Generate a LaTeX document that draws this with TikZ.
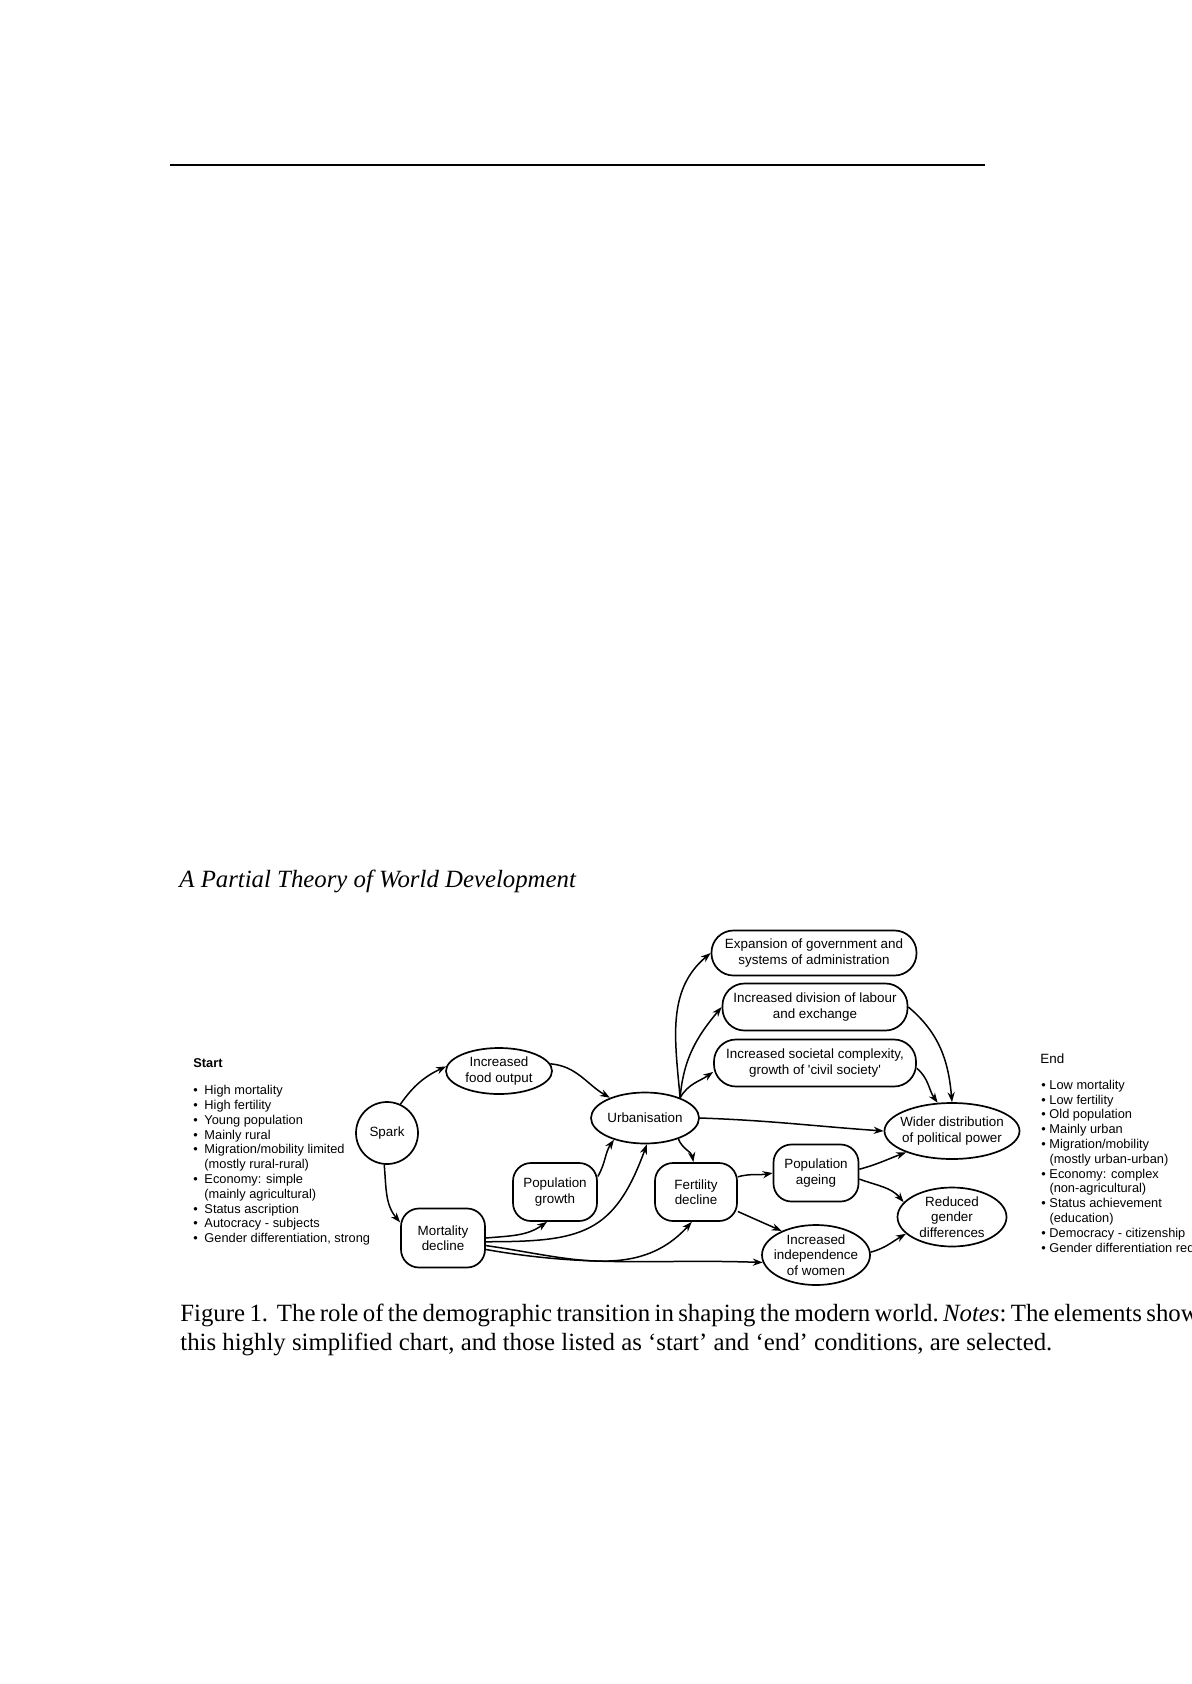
\documentclass[tikz,border=0pt]{standalone}
\usepackage{fontspec}
\setmainfont{Liberation Serif}
\newfontfamily\chartfont{Liberation Sans}
\usetikzlibrary{arrows.meta,shapes.geometric}

\begin{document}
\begin{tikzpicture}[x=0.5pt, y=-0.5pt,
    blob/.style={draw, ellipse, line width=0.85pt, inner sep=0pt, align=center, font=\chartfont\fontsize{6.7}{7.6}\selectfont},
    squarish/.style={draw, rounded corners=9pt, line width=0.85pt, inner sep=0pt, align=center, font=\chartfont\fontsize{6.7}{7.6}\selectfont},
    pill/.style={squarish, rounded corners=11pt},
    arr/.style={-{Stealth[length=5pt,width=3.6pt]}, line width=0.75pt},
    cond/.style={anchor=north west, inner sep=0pt, align=left, font=\chartfont\fontsize{6.4}{7.4}\selectfont},
    head/.style={anchor=base west, inner sep=0pt}
]
\useasboundingbox (0,0) rectangle (1192,1684);
\clip (0,0) rectangle (1192,1684);

\draw[line width=1pt] (170,165) -- (985,165);

\node[head, font=\itshape\fontsize{12.4}{14}\selectfont] (title) at (179,887) {A Partial Theory of World Development};

\node[blob, minimum width=31pt, minimum height=31pt] (spark) at (387,1133) {Spark};
\node[blob, minimum width=53pt, minimum height=23pt] (food) at (499,1071) {Increased\\food output};
\node[blob, minimum width=54pt, minimum height=25.5pt] (urb) at (645,1118) {Urbanisation};
\node[squarish, minimum width=42pt, minimum height=29pt] (pg) at (555,1192) {Population\\growth};
\node[squarish, minimum width=42pt, minimum height=29.5pt] (mort) at (443,1238) {Mortality\\decline};
\node[squarish, minimum width=41pt, minimum height=29pt] (fd) at (696,1192) {Fertility\\decline};
\node[squarish, minimum width=42.5pt, minimum height=28.5pt] (pa) at (816,1173) {Population\\ageing};
\node[blob, minimum width=54pt, minimum height=30pt, inner xsep=-4pt, inner ysep=-2pt] (iiw) at (816,1255) {Increased\\independence\\of women};
\node[blob, minimum width=54.5pt, minimum height=29.5pt, inner ysep=-2pt] (rgd) at (952,1217) {Reduced\\gender\\differences};
\node[blob, minimum width=67.5pt, minimum height=28pt, inner xsep=-4pt] (wd) at (952,1131) {Wider distribution\\of political power};
\node[pill, minimum width=102.5pt, minimum height=22.5pt] (gov) at (814,953) {Expansion of government and\\systems of administration};
\node[pill, minimum width=92.5pt, minimum height=23.5pt] (lab) at (815,1007) {Increased division of labour\\and exchange};
\node[pill, minimum width=101pt, minimum height=23.5pt] (soc) at (815,1063) {Increased societal complexity,\\growth of \textquotesingle civil society\textquotesingle};

\draw[arr] (spark.65) to[out=55,in=205] (food.175);
\draw[arr] (spark.265) to[out=275,in=130] (mort.160);
\draw[arr] (food.8) to[out=-5,in=150] (urb.150);
\draw[arr] (pg.20) to[out=60,in=235] (urb.215);
\draw[arr] (mort.east) to[out=5,in=215] (pg.255);
\draw[arr] (mort.-5) to[out=0,in=250,looseness=1.3] (urb.274);
\draw[arr] (mort.-10) to[out=-8,in=228] (fd.262);
\draw[arr] (mort.-15) to[out=-10,in=178] (iiw.188);
\draw[arr] (urb.328) to[out=-70,in=100] (fd.95);
\draw[arr] (urb.east) to[out=-2,in=176] (wd.west);
\draw[arr] (urb.30) to[out=95,in=220] (gov.west);
\draw[arr] (urb.30) to[out=85,in=230] (lab.west);
\draw[arr] (urb.30) to[out=60,in=215] (soc.185);
\draw[arr] (lab.east) to[out=-40,in=95] (wd.north);
\draw[arr] (soc.-3) to[out=-40,in=125] (wd.117);
\draw[arr] (fd.20) to[out=15,in=190] (pa.west);
\draw[arr] (fd.-25) -- (iiw.145);
\draw[arr] (pa.5) to[out=15,in=200] (wd.205);
\draw[arr] (pa.-8) to[out=-20,in=130] (rgd.163);
\draw[arr] (iiw.3) to[out=15,in=210] (rgd.200);

\node[head, font=\chartfont\bfseries\fontsize{6.4}{7.4}\selectfont] (starthead) at (193,1067) {Start};
\node[cond] (startlist) at (193,1084) {%
  \begin{tabular}{@{}l@{\hspace{3.3pt}}l@{}}
  \textbullet & High mortality\\
  \textbullet & High fertility\\
  \textbullet & Young population\\
  \textbullet & Mainly rural\\
  \textbullet & Migration/mobility limited\\
              & (mostly rural-rural)\\
  \textbullet & Economy: simple\\
              & (mainly agricultural)\\
  \textbullet & Status ascription\\
  \textbullet & Autocracy - subjects\\
  \textbullet & Gender differentiation, strong
  \end{tabular}};

\node[head, font=\chartfont\fontsize{6.7}{7.4}\selectfont] (endhead) at (1040,1063) {End};
\node[cond] (endlist) at (1041,1078.5) {%
  \begin{tabular}{@{}l@{\hspace{1.8pt}}l@{}}
  \textbullet & Low mortality\\
  \textbullet & Low fertility\\
  \textbullet & Old population\\
  \textbullet & Mainly urban\\
  \textbullet & Migration/mobility\\
              & (mostly urban-urban)\\
  \textbullet & Economy: complex\\
              & (non-agricultural)\\
  \textbullet & Status achievement\\
              & (education)\\
  \textbullet & Democracy - citizenship\\
  \textbullet & Gender differentiation reduced
  \end{tabular}};

\node[head, font=\fontsize{12.4}{14.5}\selectfont] (cap1) at (180,1321) {\frenchspacing\spaceskip=2.2pt\relax Figure 1.\ \ The role of the demographic transition in shaping the modern world. \textit{Notes}: The elements shown in};
\node[head, font=\fontsize{12.4}{14.5}\selectfont] (cap2) at (180,1350) {this highly simplified chart, and those listed as `start' and `end' conditions, are selected.};
\end{tikzpicture}
\end{document}
